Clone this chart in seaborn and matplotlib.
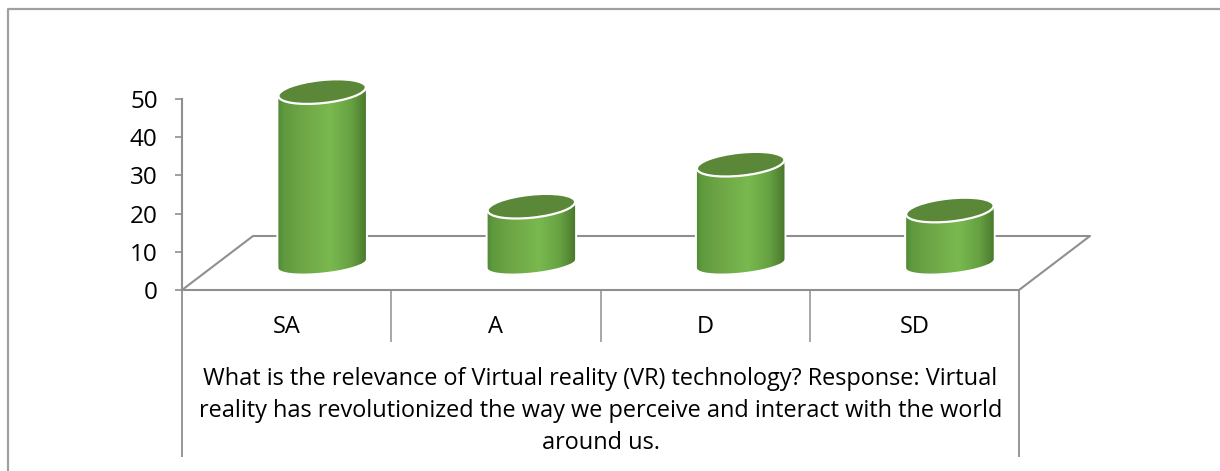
import numpy as np
import pandas as pd
import seaborn as sns
import matplotlib
matplotlib.use("Agg")
import matplotlib.pyplot as plt
from matplotlib.colors import LinearSegmentedColormap
from matplotlib.patches import Ellipse, Polygon
from matplotlib.path import Path
from matplotlib.transforms import IdentityTransform

categories = ["SA", "A", "D", "SD"]
values = [45, 15, 26, 14]
y_ticks = [0, 10, 20, 30, 40, 50]
question = ("What is the relevance of Virtual reality (VR) technology? Response: Virtual\n"
            "reality has revolutionized the way we perceive and interact with the world\n"
            "around us.")

W, H = 1220, 471
GREY = "#8f8f8f"

sns.set_style("white")
plt.rcParams["font.family"] = ["Open Sans", "DejaVu Sans"]

fig = plt.figure(figsize=(W / 100, H / 100), dpi=100)


def px_axes(left, top, right, bottom, zorder):
    # axes rectangle given in image pixels
    a = fig.add_axes([left / W, 1 - bottom / H, (right - left) / W, (bottom - top) / H])
    a.set_zorder(zorder)
    a.patch.set_alpha(0)
    return a


# outer border and the sheared floor, in pixel coordinates
bg = px_axes(0, 0, W, H, 0)
bg.set_xlim(0, W)
bg.set_ylim(H, 0)
bg.axis("off")
bg.plot([8, 8, W], [H, 9, 9], color="#a0a0a0", lw=1.6, clip_on=False)
bg.plot([182, 253, 1090, 1019], [290, 236, 236, 290], color=GREY, lw=1.5)

# front plane: value axis and category band
ax = px_axes(182, 99, 1019, 290, 1)
ax.set_xlim(-0.5, 3.5)
ax.set_ylim(0, 50)
ax.set_yticks(y_ticks)
ax.set_xticks(range(len(categories)))
ax.set_xticklabels(categories)
sns.despine(ax=ax)
for side in ["left", "bottom"]:
    ax.spines[side].set_color(GREY)
    ax.spines[side].set_linewidth(1.5)
ax.tick_params(axis="y", length=5, width=1.2, color=GREY, labelsize=17.5, pad=12.5, labelcolor="black", left=True)
ax.tick_params(axis="x", length=0, labelsize=17, pad=18, labelcolor="black")
ax.set_xlabel(question, fontsize=16.9, labelpad=20, linespacing=1.46, color="black")

band = ax.get_xaxis_transform()
ax.vlines([0.5, 1.5, 2.5], 0, -52 / 191, transform=band, color=GREY, lw=1.1, clip_on=False)
ax.vlines([-0.5, 3.5], 0, -167 / 191, transform=band, color=GREY, lw=1.3, clip_on=False)

# cylinders stand half way back on the floor
ax_bars = px_axes(182 + 35.5, 99 - 26.5, 1019 + 35.5, 290 - 26.5, 2)
df = pd.DataFrame({"category": categories, "value": values})
sns.barplot(data=df, x="category", y="value", color="#6da544", width=0.42, ax=ax_bars)
ax_bars.set_xlim(-0.5, 3.5)
ax_bars.set_ylim(0, 50)
ax_bars.axis("off")

shade = LinearSegmentedColormap.from_list("cyl", [
    (0.0, "#4a7f30"), (0.1, "#5f9a3e"), (0.28, "#6ea546"), (0.58, "#79b94f"),
    (0.8, "#66a142"), (0.93, "#4f7f30"), (1.0, "#3f6628")])
gradient = np.linspace(0, 1, 256).reshape(1, -1)
ident = IdentityTransform()
tilt = np.deg2rad(6)
top_minor = 11.5
base_minor = 9

for bar in ax_bars.containers[0]:
    x0, w, h = bar.get_x(), bar.get_width(), bar.get_height()
    cx = x0 + w / 2
    base = ax_bars.transData.transform((cx, 0))
    top = ax_bars.transData.transform((cx, h))
    a = (ax_bars.transData.transform((x0 + w, 0))[0] - ax_bars.transData.transform((x0, 0))[0]) / 2
    t = np.linspace(np.pi, 2 * np.pi, 60)
    arc = np.column_stack([
        base[0] + a * np.cos(t) * np.cos(tilt) - base_minor * np.sin(t) * np.sin(tilt),
        base[1] + a * np.cos(t) * np.sin(tilt) + base_minor * np.sin(t) * np.cos(tilt)])
    upper = np.array([[top[0] + a * np.cos(tilt), top[1] + a * np.sin(tilt)],
                      [top[0] - a * np.cos(tilt), top[1] - a * np.sin(tilt)]])
    body = np.vstack([arc, upper, arc[:1]])

    # square corners of the bar would poke out of the tilted body
    bar.set_clip_path(Path(body), ident)
    ax_bars.add_patch(Polygon(body, closed=True, transform=ident, fc="white", ec="white",
                              lw=3, zorder=0.5, clip_on=False))
    im = ax_bars.imshow(gradient, cmap=shade, aspect="auto", zorder=2,
                        extent=(x0 - 0.02, x0 + w + 0.02, -5, h + 5))
    im.set_clip_path(Path(body), ident)
    im.set_clip_box(fig.bbox)
    ax_bars.add_patch(Ellipse(top, 2 * a, 2 * top_minor, angle=np.rad2deg(tilt), transform=ident,
                              fc="#5b8739", ec="white", lw=1.6, zorder=3, clip_on=False))

ax_bars.set_xlim(-0.5, 3.5)
ax_bars.set_ylim(0, 50)

fig.savefig("out.png", dpi=100)
